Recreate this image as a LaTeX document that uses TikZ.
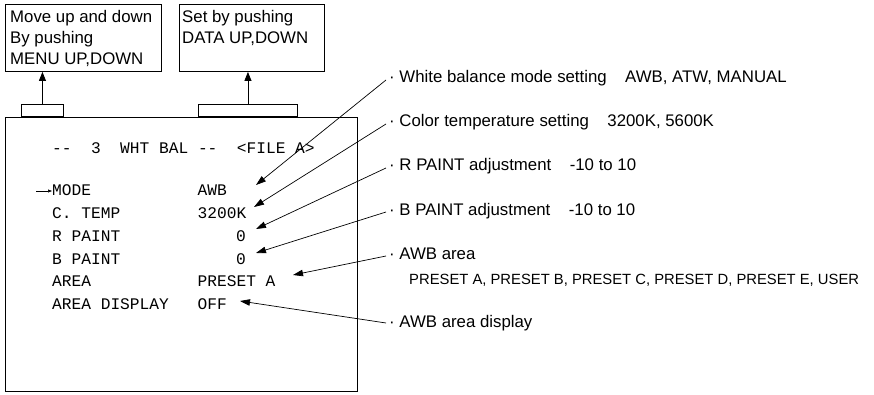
\documentclass[tikz,border=0pt]{standalone}
\usepackage{fontspec}
\setmainfont{Liberation Sans}
\newfontfamily\scrfont{Liberation Mono}
\usetikzlibrary{arrows.meta}
\begin{document}
\begin{tikzpicture}[x=1pt,y=-1pt,
  lbl/.style={font=\fontsize{16.8}{18}\selectfont, anchor=base west, inner sep=0pt},
  sublbl/.style={font=\fontsize{14.8}{18}\selectfont, anchor=base west, inner sep=0pt},
  scrtxt/.style={font=\scrfont\fontsize{16.2}{18}\selectfont, anchor=base west, inner sep=0pt},
  frame/.style={draw, line width=0.9pt, inner sep=0pt, anchor=north west},
  uptip/.style={-{Triangle[length=9pt,width=7pt]}, line width=0.8pt},
  lead/.style={-{Triangle[length=10pt,width=6.5pt]}, line width=0.7pt},
  small/.style={-{Triangle[length=4pt,width=3pt]}, line width=0.6pt}]
\useasboundingbox (0,0) rectangle (874,395);

% help boxes
\node[frame, minimum width=156pt, minimum height=67pt] (b1) at (5,4) {};
\node[lbl] (b1a) at (10,23) {Move up and down};
\node[lbl] (b1b) at (10,44) {By pushing};
\node[lbl] (b1c) at (10,65) {MENU UP,DOWN};

\node[frame, minimum width=145pt, minimum height=67pt] (b2) at (179,4) {};
\node[lbl] (b2a) at (182,23) {Set by pushing};
\node[lbl] (b2b) at (182,44) {DATA UP,DOWN};

% tabs and screen
\node[draw, line width=0.9pt, inner sep=0pt, anchor=south west, minimum width=42pt, minimum height=12pt] (t1) at (21,117) {};
\node[draw, line width=0.9pt, inner sep=0pt, anchor=south west, minimum width=99pt, minimum height=12pt] (t2) at (198,117) {};
\node[frame, line width=1.4pt, minimum width=352pt, minimum height=274pt] (scr) at (5,117) {};

\draw[uptip] (t1.north) -- (t1.north |- b1.south);
\draw[uptip] (t2.north) -- (t2.north |- b2.south);

% screen text
\node[scrtxt] (hdr) at (52,154) {--\ \ 3\ \ WHT BAL --\ \ <FILE A>};
\node[scrtxt] (n1) at (52,196) {MODE};
\node[scrtxt] (n2) at (52,218.7) {C. TEMP};
\node[scrtxt] (n3) at (52,241.4) {R PAINT};
\node[scrtxt] (n4) at (52,264.1) {B PAINT};
\node[scrtxt] (n5) at (52,286.8) {AREA};
\node[scrtxt] (n6) at (52,309.5) {AREA DISPLAY};
\node[scrtxt] (v1) at (197.5,196) {AWB};
\node[scrtxt] (v2) at (197.5,218.7) {3200K};
\node[scrtxt] (v3) at (236,241.4) {0};
\node[scrtxt] (v4) at (236,264.1) {0};
\node[scrtxt] (v5) at (197.5,286.8) {PRESET A};
\node[scrtxt] (v6) at (197.5,309.5) {OFF};

\coordinate (cur) at (36,191);
\draw[small] (cur) -- (n1.west |- cur);

% right-hand labels
\node[lbl] (L1) at (389,83) {· White balance mode setting\hspace{1.1em}AWB, ATW, MANUAL};
\node[lbl] (L2) at (389,127) {· Color temperature setting\hspace{1.1em}3200K, 5600K};
\node[lbl] (L3) at (389,171) {· R PAINT adjustment\hspace{1.1em}-10 to 10};
\node[lbl] (L4) at (389,215) {· B PAINT adjustment\hspace{1.1em}-10 to 10};
\node[lbl] (L5) at (389,259) {· AWB area};
\node[sublbl] (L5b) at (409,284) {PRESET A, PRESET B, PRESET C, PRESET D, PRESET E, USER};
\node[lbl] (L6) at (389,327) {· AWB area display};

\coordinate (s1) at (386,80);
\coordinate (s2) at (386,124);
\coordinate (s3) at (386,168);
\coordinate (s4) at (386,212);
\coordinate (s5) at (386,256);
\coordinate (s6) at (386,323);
\coordinate (e1) at (256,185);
\coordinate (e2) at (254,207);
\coordinate (e3) at (256,229);
\coordinate (e4) at (256,253);
\coordinate (e5) at (293,275);
\coordinate (e6) at (240,301);
\foreach \i in {1,...,6} {\draw[lead] (s\i) -- (e\i);}
\end{tikzpicture}
\end{document}
